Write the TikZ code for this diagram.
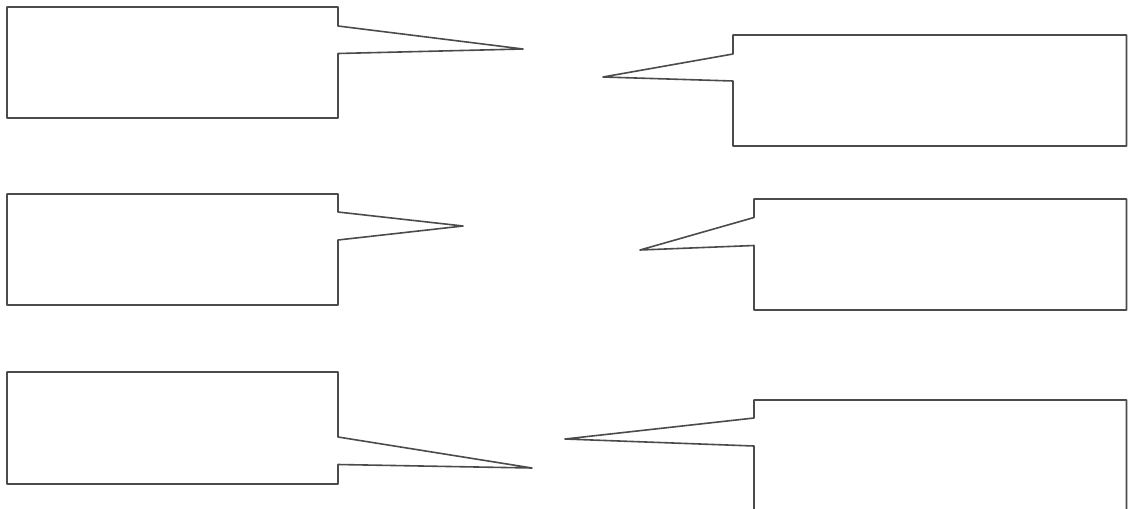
\documentclass[tikz,border=0pt]{standalone}
\usepackage{xcolor}
\usepackage{tikz}
\tikzset{every picture/.style={line width=0.75pt}}
\tikzset{callout line/.style={draw={rgb,255:red,75;green,75;blue,75}, line width=1.6pt, line join=round}}

\begin{document}
\begin{tikzpicture}[x=1pt,y=1pt,yscale=-1,xscale=1]
    \useasboundingbox (0,0) rectangle (1128,509);
    \clip (0,0) rectangle (1128,509);
    % left column
    \draw [callout line] (7,7) -- (338,7) -- (338,26) -- (523,49) -- (338,53.5) -- (338,118) -- (7,118) -- cycle ;
    \draw [callout line] (7,194) -- (338,194) -- (338,212) -- (463,226) -- (338,240) -- (338,305) -- (7,305) -- cycle ;
    \draw [callout line] (7,372) -- (338,372) -- (338,437) -- (532,468) -- (338,464.5) -- (338,484) -- (7,484) -- cycle ;
    % right column
    \draw [callout line] (1126.5,35) -- (733,35) -- (733,54) -- (603,77) -- (733,81) -- (733,146) -- (1126.5,146) -- cycle ;
    \draw [callout line] (1126.5,199) -- (754,199) -- (754,217.5) -- (640,250) -- (754,245.5) -- (754,310) -- (1126.5,310) -- cycle ;
    \draw [callout line] (1126.5,400) -- (754,400) -- (754,418) -- (565,439) -- (754,446) -- (754,520) -- (1126.5,520) -- cycle ;
\end{tikzpicture}
\end{document}
